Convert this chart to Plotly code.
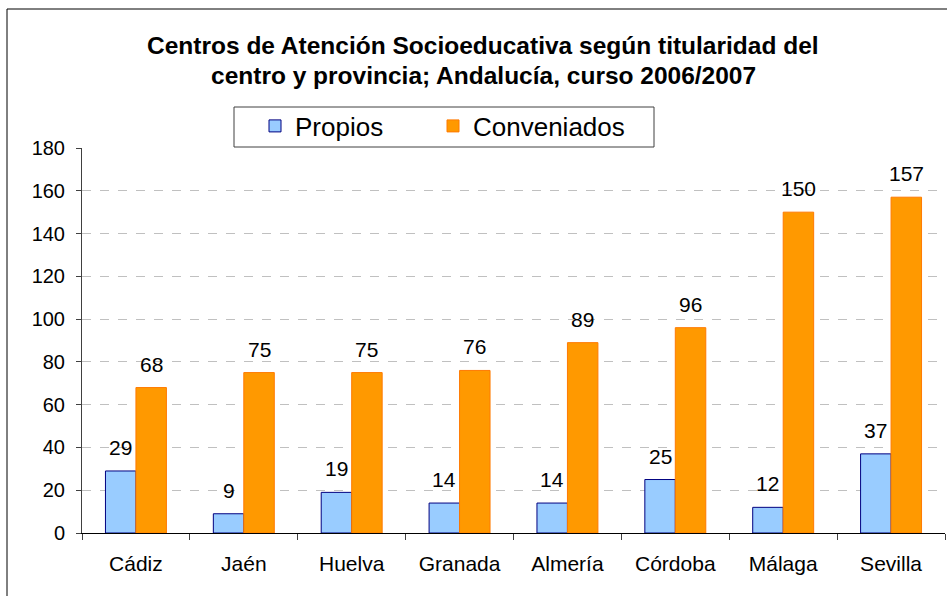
import plotly.graph_objects as go

provincias = ["Cádiz", "Jaén", "Huelva", "Granada", "Almería", "Córdoba", "Málaga", "Sevilla"]
propios = [29, 9, 19, 14, 14, 25, 12, 37]
conveniados = [68, 75, 75, 76, 89, 96, 150, 157]
y_ticks = [0, 20, 40, 60, 80, 100, 120, 140, 160, 180]
title_lines = ["Centros de Atención Socioeducativa según titularidad del",
               "centro y provincia; Andalucía, curso 2006/2007"]

W, H = 947, 596
ML, MR, MT, MB = 82, 2, 148, 63
PW = W - ML - MR
PH = H - MT - MB
BARGAP = 0.435
bar_w = PW / len(provincias) * (1 - BARGAP) / 2

FONT = "Liberation Sans, Arial, sans-serif"


def py2paper(py):
    return (MT + PH - py) / PH


def px2paper(px):
    return (px - ML) / PW


fig = go.Figure()
fig.add_trace(go.Bar(
    x=provincias, y=propios, name="Propios", legend="legend",
    marker=dict(color="#99CCFF", line=dict(color="#000080", width=1)),
))
fig.add_trace(go.Bar(
    x=provincias, y=conveniados, name="Conveniados", legend="legend2",
    marker=dict(color="#FF9900", line=dict(color="#FF7A00", width=1)),
))

annotations = []
for series, shift in ((propios, -bar_w / 2), (conveniados, bar_w / 2)):
    for cat, val in zip(provincias, series):
        annotations.append(dict(
            x=cat, y=val, xref="x", yref="y", text=str(val), showarrow=False,
            xshift=shift, yshift=10, yanchor="bottom", xanchor="center",
            font=dict(family=FONT, size=21, color="black"),
        ))

for line, cy in zip(title_lines, (45, 75)):
    annotations.append(dict(
        x=px2paper(483), y=py2paper(cy), xref="paper", yref="paper",
        text="<b>" + line + "</b>", showarrow=False, xanchor="center", yanchor="middle",
        font=dict(family=FONT, size=24.5, color="black"),
    ))

legend_common = dict(
    orientation="h", y=py2paper(126), xanchor="left", yanchor="middle",
    bgcolor="rgba(0,0,0,0)", borderwidth=0,
    font=dict(family=FONT, size=26, color="black"), itemwidth=30,
)

fig.update_layout(
    width=W, height=H,
    margin=dict(l=ML, r=MR, t=MT, b=MB, pad=0),
    paper_bgcolor="white", plot_bgcolor="white",
    barmode="group", bargap=BARGAP, bargroupgap=0,
    font=dict(family=FONT, size=20, color="black"),
    showlegend=True,
    legend=dict(x=px2paper(255), **legend_common),
    legend2=dict(x=px2paper(433), **legend_common),
    annotations=annotations,
    shapes=[
        dict(type="rect", xref="paper", yref="paper",
             x0=px2paper(7), x1=px2paper(1100), y0=py2paper(800), y1=py2paper(9),
             line=dict(color="black", width=1), fillcolor="rgba(0,0,0,0)", layer="above"),
        dict(type="rect", xref="paper", yref="paper",
             x0=px2paper(234), x1=px2paper(654), y0=py2paper(147), y1=py2paper(107),
             line=dict(color="#404040", width=1), fillcolor="white", layer="above"),
    ],
)
fig.update_xaxes(
    type="category", showline=True, linecolor="black", linewidth=1,
    ticks="outside", tickson="boundaries", ticklen=6, tickcolor="#404040",
    showgrid=False, ticklabelstandoff=12,
    tickfont=dict(family=FONT, size=21, color="black"),
)
fig.update_yaxes(
    range=[0, 180], tickvals=y_ticks, showline=True, linecolor="#404040", linewidth=1,
    ticks="outside", ticklen=5, tickcolor="#404040", ticklabelstandoff=7,
    showgrid=True, gridcolor="#C0C0C0", griddash="dash", gridwidth=1,
    zeroline=False,
    tickfont=dict(family=FONT, size=20, color="black"),
)

fig.write_html(
    "out.html",
    config={"displayModeBar": False},
    post_script="document.body.style.margin='0';document.body.style.overflow='hidden';",
)
